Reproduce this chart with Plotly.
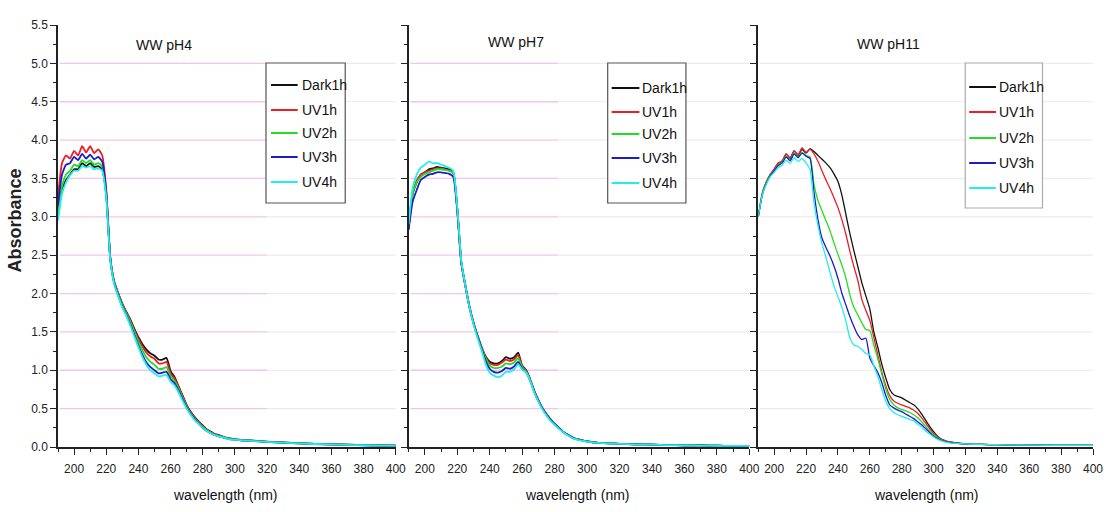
import plotly.graph_objects as go

# ---------------------------------------------------------------- data
WAVELENGTH = [190, 192.5, 195, 197.5, 200, 202.5, 205, 207.5, 210, 212.5, 215, 217.5,
              220, 222.5, 225, 227.5, 230, 232.5, 235, 237.5, 240, 242.5, 245, 247.5,
              250, 252.5, 255, 257.5, 260, 262.5, 265, 267.5, 270, 272.5, 275, 277.5,
              280, 282.5, 285, 287.5, 290, 292.5, 295, 297.5, 300, 302.5, 305, 307.5,
              310, 320, 330, 340, 350, 360, 370, 380, 390, 400]

SERIES = ["Dark1h", "UV1h", "UV2h", "UV3h", "UV4h"]
PANELS = ["WW pH4", "WW pH7", "WW pH11"]

# WW pH4
PH4_DARK1H = [3.05, 3.35, 3.48, 3.55, 3.62, 3.62, 3.70, 3.66, 3.70, 3.65, 3.66, 3.62,
              3.28, 2.47, 2.15, 2.00, 1.87, 1.76, 1.66, 1.54, 1.43, 1.34, 1.27, 1.22,
              1.19, 1.14, 1.14, 1.16, 0.99, 0.91, 0.79, 0.67, 0.55, 0.46, 0.39, 0.33,
              0.28, 0.23, 0.20, 0.17, 0.155, 0.135, 0.12, 0.11, 0.10, 0.095, 0.09, 0.087,
              0.085, 0.07, 0.06, 0.05, 0.04, 0.035, 0.03, 0.025, 0.02, 0.017]
PH4_UV1H = [3.25, 3.70, 3.80, 3.76, 3.86, 3.80, 3.92, 3.84, 3.92, 3.83, 3.88, 3.80,
            3.35, 2.47, 2.15, 2.00, 1.86, 1.75, 1.65, 1.52, 1.41, 1.31, 1.23, 1.18,
            1.15, 1.09, 1.09, 1.11, 0.96, 0.89, 0.78, 0.66, 0.54, 0.45, 0.38, 0.32,
            0.27, 0.22, 0.19, 0.165, 0.15, 0.13, 0.115, 0.105, 0.10, 0.093, 0.088, 0.085,
            0.083, 0.068, 0.058, 0.048, 0.04, 0.034, 0.029, 0.024, 0.02, 0.017]
PH4_UV2H = [3.00, 3.40, 3.55, 3.60, 3.68, 3.66, 3.74, 3.70, 3.74, 3.68, 3.70, 3.66,
            3.30, 2.46, 2.14, 1.99, 1.85, 1.74, 1.63, 1.50, 1.37, 1.26, 1.17, 1.11,
            1.07, 1.02, 1.02, 1.04, 0.92, 0.86, 0.76, 0.64, 0.53, 0.44, 0.37, 0.31,
            0.26, 0.22, 0.19, 0.16, 0.145, 0.13, 0.115, 0.105, 0.098, 0.092, 0.087, 0.084,
            0.082, 0.067, 0.057, 0.047, 0.04, 0.034, 0.029, 0.024, 0.02, 0.017]
PH4_UV3H = [3.15, 3.55, 3.68, 3.70, 3.78, 3.74, 3.82, 3.76, 3.81, 3.75, 3.78, 3.72,
            3.32, 2.45, 2.13, 1.97, 1.83, 1.72, 1.60, 1.46, 1.32, 1.20, 1.10, 1.04,
            1.00, 0.96, 0.97, 0.98, 0.88, 0.83, 0.73, 0.62, 0.51, 0.43, 0.36, 0.30,
            0.25, 0.21, 0.18, 0.155, 0.14, 0.125, 0.11, 0.10, 0.095, 0.09, 0.085, 0.082,
            0.08, 0.066, 0.056, 0.046, 0.039, 0.033, 0.028, 0.023, 0.019, 0.016]
PH4_UV4H = [2.95, 3.30, 3.45, 3.54, 3.60, 3.60, 3.66, 3.64, 3.66, 3.62, 3.63, 3.60,
            3.25, 2.44, 2.12, 1.96, 1.82, 1.71, 1.58, 1.44, 1.30, 1.17, 1.07, 1.00,
            0.96, 0.92, 0.93, 0.94, 0.85, 0.80, 0.71, 0.60, 0.50, 0.42, 0.35, 0.30,
            0.25, 0.21, 0.18, 0.155, 0.14, 0.125, 0.11, 0.10, 0.094, 0.09, 0.086, 0.083,
            0.08, 0.066, 0.056, 0.046, 0.039, 0.033, 0.028, 0.023, 0.019, 0.016]

# WW pH7
PH7_DARK1H = [2.85, 3.30, 3.45, 3.55, 3.58, 3.62, 3.63, 3.65, 3.64, 3.63, 3.62, 3.58,
              3.10, 2.40, 2.10, 1.83, 1.62, 1.45, 1.30, 1.18, 1.11, 1.09, 1.09, 1.12,
              1.17, 1.15, 1.17, 1.23, 1.06, 1.00, 0.88, 0.73, 0.61, 0.51, 0.43, 0.36,
              0.30, 0.25, 0.20, 0.165, 0.135, 0.11, 0.095, 0.083, 0.072, 0.065, 0.06, 0.055,
              0.052, 0.042, 0.036, 0.031, 0.026, 0.022, 0.02, 0.017, 0.015, 0.015]
PH7_UV1H = [2.85, 3.32, 3.47, 3.55, 3.58, 3.60, 3.62, 3.63, 3.63, 3.62, 3.60, 3.57,
            3.10, 2.40, 2.10, 1.83, 1.62, 1.45, 1.30, 1.17, 1.09, 1.07, 1.07, 1.10,
            1.14, 1.12, 1.14, 1.20, 1.05, 0.99, 0.87, 0.72, 0.60, 0.50, 0.42, 0.35,
            0.30, 0.25, 0.20, 0.165, 0.135, 0.11, 0.095, 0.083, 0.072, 0.065, 0.06, 0.055,
            0.052, 0.042, 0.036, 0.031, 0.026, 0.022, 0.02, 0.017, 0.015, 0.015]
PH7_UV2H = [2.85, 3.30, 3.45, 3.52, 3.56, 3.58, 3.60, 3.62, 3.62, 3.61, 3.60, 3.58,
            3.10, 2.40, 2.10, 1.83, 1.62, 1.45, 1.29, 1.15, 1.06, 1.03, 1.03, 1.05,
            1.09, 1.08, 1.10, 1.16, 1.04, 0.98, 0.87, 0.72, 0.60, 0.50, 0.42, 0.35,
            0.30, 0.25, 0.20, 0.165, 0.135, 0.11, 0.095, 0.083, 0.072, 0.065, 0.06, 0.055,
            0.052, 0.042, 0.036, 0.031, 0.026, 0.022, 0.02, 0.017, 0.015, 0.015]
PH7_UV3H = [2.83, 3.20, 3.35, 3.48, 3.52, 3.55, 3.56, 3.58, 3.58, 3.57, 3.56, 3.52,
            3.08, 2.40, 2.10, 1.82, 1.61, 1.44, 1.28, 1.12, 1.02, 0.98, 0.97, 0.99,
            1.03, 1.02, 1.05, 1.11, 1.02, 0.97, 0.86, 0.72, 0.60, 0.50, 0.42, 0.35,
            0.30, 0.25, 0.20, 0.165, 0.135, 0.11, 0.095, 0.083, 0.072, 0.065, 0.06, 0.055,
            0.052, 0.042, 0.036, 0.031, 0.026, 0.022, 0.02, 0.017, 0.015, 0.015]
PH7_UV4H = [2.90, 3.38, 3.55, 3.64, 3.68, 3.72, 3.70, 3.70, 3.68, 3.66, 3.64, 3.60,
            3.12, 2.42, 2.10, 1.82, 1.60, 1.42, 1.26, 1.08, 0.97, 0.93, 0.91, 0.93,
            0.98, 0.98, 1.01, 1.08, 1.01, 0.97, 0.86, 0.71, 0.59, 0.49, 0.41, 0.34,
            0.29, 0.24, 0.195, 0.16, 0.13, 0.105, 0.09, 0.08, 0.07, 0.063, 0.058, 0.053,
            0.05, 0.041, 0.035, 0.03, 0.025, 0.021, 0.019, 0.016, 0.015, 0.014]

# WW pH11
PH11_DARK1H = [3.00, 3.30, 3.45, 3.55, 3.62, 3.70, 3.72, 3.82, 3.76, 3.86, 3.80, 3.88,
               3.83, 3.89, 3.85, 3.80, 3.75, 3.70, 3.64, 3.56, 3.46, 3.28, 3.03, 2.78,
               2.56, 2.35, 2.14, 1.97, 1.80, 1.50, 1.30, 1.08, 0.90, 0.75, 0.68, 0.66,
               0.64, 0.61, 0.58, 0.55, 0.50, 0.43, 0.35, 0.27, 0.20, 0.14, 0.10, 0.08,
               0.065, 0.04, 0.033, 0.03, 0.027, 0.025, 0.023, 0.022, 0.02, 0.02]
PH11_UV1H = [3.00, 3.30, 3.45, 3.55, 3.62, 3.70, 3.73, 3.82, 3.77, 3.86, 3.81, 3.90,
             3.84, 3.88, 3.82, 3.72, 3.60, 3.48, 3.37, 3.25, 3.12, 2.96, 2.77, 2.55,
             2.35, 2.17, 1.92, 1.78, 1.65, 1.43, 1.20, 0.98, 0.80, 0.67, 0.60, 0.57,
             0.55, 0.53, 0.51, 0.48, 0.44, 0.38, 0.31, 0.24, 0.18, 0.13, 0.10, 0.08,
             0.065, 0.04, 0.033, 0.03, 0.027, 0.025, 0.023, 0.022, 0.02, 0.02]
PH11_UV2H = [3.00, 3.30, 3.44, 3.54, 3.60, 3.68, 3.71, 3.79, 3.74, 3.83, 3.78, 3.84,
             3.80, 3.78, 3.42, 3.21, 3.08, 2.95, 2.82, 2.66, 2.51, 2.37, 2.20, 1.98,
             1.82, 1.72, 1.62, 1.53, 1.52, 1.33, 1.15, 0.95, 0.76, 0.62, 0.55, 0.51,
             0.49, 0.47, 0.45, 0.42, 0.38, 0.33, 0.27, 0.21, 0.16, 0.12, 0.09, 0.075,
             0.06, 0.04, 0.033, 0.03, 0.027, 0.025, 0.023, 0.022, 0.02, 0.02]
PH11_UV3H = [3.00, 3.28, 3.43, 3.53, 3.60, 3.67, 3.70, 3.78, 3.73, 3.82, 3.77, 3.83,
             3.79, 3.76, 3.32, 2.96, 2.72, 2.60, 2.49, 2.36, 2.20, 2.00, 1.85, 1.70,
             1.57, 1.46, 1.40, 1.42, 1.16, 1.06, 0.97, 0.84, 0.67, 0.55, 0.51, 0.48,
             0.46, 0.43, 0.40, 0.37, 0.33, 0.29, 0.24, 0.19, 0.14, 0.11, 0.085, 0.07,
             0.06, 0.04, 0.033, 0.03, 0.027, 0.025, 0.023, 0.022, 0.02, 0.02]
PH11_UV4H = [3.00, 3.28, 3.42, 3.52, 3.58, 3.64, 3.67, 3.74, 3.70, 3.77, 3.72, 3.76,
             3.70, 3.62, 3.18, 2.88, 2.65, 2.47, 2.28, 2.10, 1.96, 1.82, 1.64, 1.42,
             1.33, 1.31, 1.27, 1.22, 1.20, 1.06, 0.92, 0.75, 0.60, 0.50, 0.45, 0.42,
             0.40, 0.38, 0.36, 0.34, 0.30, 0.26, 0.21, 0.17, 0.13, 0.10, 0.08, 0.065,
             0.055, 0.04, 0.033, 0.03, 0.027, 0.025, 0.023, 0.022, 0.02, 0.02]

X_TICKS = [200, 220, 240, 260, 280, 300, 320, 340, 360, 380, 400]
Y_TICKS = [0.0, 0.5, 1.0, 1.5, 2.0, 2.5, 3.0, 3.5, 4.0, 4.5, 5.0, 5.5]

# ---------------------------------------------------------------- styling
COLORS = ["#111111", "#ee1c24", "#22dd22", "#1c1cc8", "#22eeee"]
FONT = "Liberation Sans, Arial, sans-serif"
W, H = 1110, 512
ML, MR, MT, MB = 58, 7, 25, 65
PW, PH = W - ML - MR, H - MT - MB

# horizontal extent of each panel (pixel columns of axis start / end)
PANEL_PX = [(58, 399), (412, 756), (765, 1103)]


def px(x):
    return (x - ML) / PW


def py(y):
    return (H - MB - y) / PH


panel_data = [
    [PH4_DARK1H, PH4_UV1H, PH4_UV2H, PH4_UV3H, PH4_UV4H],
    [PH7_DARK1H, PH7_UV1H, PH7_UV2H, PH7_UV3H, PH7_UV4H],
    [PH11_DARK1H, PH11_UV1H, PH11_UV2H, PH11_UV3H, PH11_UV4H],
]
line_widths = [1.8, 1.8, 1.3]

fig = go.Figure()
for p, series_list in enumerate(panel_data):
    xa = "x" if p == 0 else f"x{p + 1}"
    ya = "y" if p == 0 else f"y{p + 1}"
    for name, vals, col in zip(SERIES, series_list, COLORS):
        fig.add_trace(go.Scatter(
            x=WAVELENGTH, y=vals, mode="lines", name=name,
            line=dict(color=col, width=line_widths[p], shape="spline", smoothing=0.5),
            xaxis=xa, yaxis=ya, showlegend=False,
        ))

axis_common = dict(
    showline=True, linecolor="#222222", linewidth=1.5,
    ticks="outside", tickcolor="#222222", tickwidth=1.3, ticklen=6,
    showgrid=False, zeroline=False,
    tickfont=dict(family=FONT, size=12, color="#222222"),
)

layout = dict(
    width=W, height=H,
    margin=dict(l=ML, r=MR, t=MT, b=MB),
    paper_bgcolor="white", plot_bgcolor="white",
    showlegend=False,
)

for p, (x0, x1) in enumerate(PANEL_PX):
    sfx = "" if p == 0 else str(p + 1)
    layout[f"xaxis{sfx}"] = dict(
        axis_common, domain=[px(x0), px(x1)], range=[190, 400],
        tickvals=X_TICKS, anchor=f"y{sfx}", ticklabelstandoff=4,
        minor=dict(dtick=10, tick0=190, ticks="outside", ticklen=3,
                   tickcolor="#222222", tickwidth=1.2, showgrid=False),
    )
    layout[f"yaxis{sfx}"] = dict(
        axis_common, domain=[0, 1], range=[0, 5.5],
        tickvals=Y_TICKS, tickformat=".1f", anchor=f"x{sfx}",
        showticklabels=(p == 0),
        minor=dict(dtick=0.25, tick0=0, ticks="outside", ticklen=3,
                   tickcolor="#222222", tickwidth=1.2, showgrid=False),
    )

fig.update_layout(**layout)

# horizontal reference lines: pink on the left part, grey beyond
grid_split = [0.62, 0.44, 0.0]
shapes = []
for p in range(3):
    sfx = "" if p == 0 else str(p + 1)
    for level in Y_TICKS[1:-1]:
        if grid_split[p] > 0:
            shapes.append(dict(type="line", xref=f"x{sfx} domain", yref=f"y{sfx}",
                               x0=0.005, x1=grid_split[p], y0=level, y1=level,
                               line=dict(color="#f2c4ee", width=1.3), layer="below"))
        shapes.append(dict(type="line", xref=f"x{sfx} domain", yref=f"y{sfx}",
                           x0=max(grid_split[p], 0.005), x1=1, y0=level, y1=level,
                           line=dict(color="#ececec", width=1.2), layer="below"))

annotations = []

# legend boxes drawn per panel
legend_boxes = [
    dict(box=(268, 348, 63, 203), rows=[85, 110, 133, 157, 182], line=(273, 300), tx=302,
         border="#555555"),
    dict(box=(613, 692, 63, 203), rows=[88, 112, 134, 158, 183], line=(617, 645), tx=646,
         border="#555555"),
    dict(box=(974, 1052, 63, 208), rows=[87, 112, 138, 163, 188], line=(978, 1005), tx=1006,
         border="#aaaaaa"),
]
for lg in legend_boxes:
    bx0, bx1, by0, by1 = lg["box"]
    shapes.append(dict(type="rect", xref="paper", yref="paper",
                       x0=px(bx0), x1=px(bx1), y0=py(by1), y1=py(by0),
                       line=dict(color=lg["border"], width=1.2), fillcolor="white",
                       layer="above"))
    for name, col, ry in zip(SERIES, COLORS, lg["rows"]):
        shapes.append(dict(type="line", xref="paper", yref="paper",
                           x0=px(lg["line"][0]), x1=px(lg["line"][1]), y0=py(ry), y1=py(ry),
                           line=dict(color=col, width=2), layer="above"))
        annotations.append(dict(text=name, xref="paper", yref="paper",
                                x=px(lg["tx"]), y=py(ry), xanchor="left", yanchor="middle",
                                showarrow=False,
                                font=dict(family=FONT, size=14, color="#111111")))

# panel titles
for title, (tx, ty) in zip(PANELS, [(165, 45), (520, 42), (897, 44)]):
    annotations.append(dict(text=title, xref="paper", yref="paper", x=px(tx), y=py(ty),
                            xanchor="center", yanchor="middle", showarrow=False,
                            font=dict(family=FONT, size=14, color="#111111")))

# axis titles
for tx in [227, 583, 935]:
    annotations.append(dict(text="wavelength (nm)", xref="paper", yref="paper",
                            x=px(tx), y=py(495), xanchor="center", yanchor="middle",
                            showarrow=False,
                            font=dict(family=FONT, size=14, color="#111111")))
annotations.append(dict(text="<b>Absorbance</b>", xref="paper", yref="paper",
                        x=px(15), y=py(220), xanchor="center", yanchor="middle",
                        textangle=-90, showarrow=False,
                        font=dict(family=FONT, size=18, color="#222222")))

fig.update_layout(shapes=shapes, annotations=annotations)
fig.write_html("out.html")
